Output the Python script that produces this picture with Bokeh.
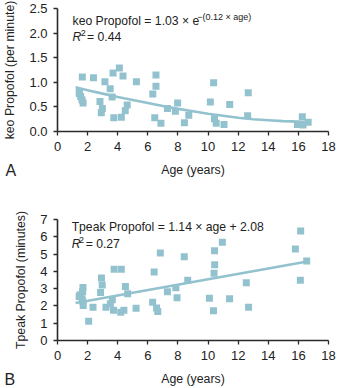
from bokeh.plotting import figure
from bokeh.models import Range1d, Label, Title, FixedTicker, NumeralTickFormatter
from bokeh.layouts import column
from bokeh.embed import file_html
from bokeh.resources import INLINE

# ---- Panel A data: keo Propofol vs age ----
keo_age = [1.65, 2.39, 1.45, 1.45, 1.54, 1.63, 1.70, 2.82, 2.98, 2.91, 3.15, 3.50,
           3.63, 3.69, 3.74, 4.11, 4.35, 4.24, 4.50, 4.63, 5.24, 6.33, 6.54, 6.54,
           6.46, 6.87, 7.30, 7.83, 7.98, 8.72, 8.43, 10.15, 10.37, 10.43, 10.54,
           11.44, 11.06, 12.67, 12.63, 16.26, 15.94, 16.31, 16.65]
keo_val = [1.11, 1.09, 0.81, 0.77, 0.71, 0.64, 0.58, 0.61, 0.47, 0.38, 1.01, 0.87,
           0.70, 1.19, 0.28, 1.29, 1.13, 0.29, 0.42, 0.54, 1.01, 0.76, 1.15, 0.92,
           0.28, 0.17, 0.47, 0.41, 0.58, 0.33, 0.18, 0.60, 0.99, 0.26, 0.17,
           0.55, 0.14, 0.79, 0.32, 0.30, 0.14, 0.13, 0.19]
keo_fit_age = [1.2, 2, 3, 4, 5, 6, 7, 8, 9, 10, 11, 12, 13, 14, 15, 16, 16.6]
keo_fit_val = [0.90, 0.84, 0.77, 0.70, 0.64, 0.58, 0.52, 0.46, 0.41, 0.36, 0.32,
               0.28, 0.25, 0.23, 0.21, 0.20, 0.19]

# ---- Panel B data: Tpeak Propofol vs age ----
tp_age = [1.69, 1.67, 1.50, 1.63, 1.44, 1.67, 1.71, 2.07, 2.36, 2.92, 2.97, 2.86,
          3.22, 3.51, 3.64, 3.72, 3.76, 4.24, 4.20, 4.41, 4.51, 4.66, 5.22, 6.83,
          6.42, 6.32, 6.58, 6.66, 7.30, 7.86, 7.94, 8.42, 8.65, 10.09, 10.36, 10.40,
          10.44, 10.43, 10.95, 11.43, 12.54, 12.69, 15.80, 16.15, 16.55, 16.13]
tp_val = [3.07, 2.84, 2.65, 2.42, 2.55, 2.27, 2.02, 1.12, 1.92, 3.61, 3.21, 2.78,
          1.92, 2.12, 2.36, 1.75, 4.12, 4.12, 1.64, 1.75, 3.13, 2.71, 1.87, 5.06,
          3.96, 2.22, 1.88, 1.68, 2.82, 3.05, 2.48, 4.84, 3.49, 2.44, 1.72, 3.89,
          4.38, 5.19, 5.68, 2.42, 3.34, 1.92, 5.30, 6.33, 4.60, 3.49]
tp_fit_age = [1.2, 16.5]
tp_fit_val = [2.17, 4.56]

x_ticks = [0, 2, 4, 6, 8, 10, 12, 14, 16, 18]
keo_ticks = [0.0, 0.5, 1.0, 1.5, 2.0, 2.5]
tp_ticks = [0, 1, 2, 3, 4, 5, 6, 7]

COLOR = "#93c2cf"
AXIS = "#2a2a2a"
FONT = "Liberation Sans"


def style(p):
    p.background_fill_color = "white"
    p.border_fill_color = "white"
    p.outline_line_color = None
    p.xgrid.grid_line_color = None
    p.ygrid.grid_line_color = None
    for ax in (p.xaxis[0], p.yaxis[0]):
        ax.axis_line_color = AXIS
        ax.axis_line_width = 1.6
        ax.major_tick_line_color = AXIS
        ax.major_tick_line_width = 1.3
        ax.major_tick_out = 4
        ax.major_tick_in = 0
        ax.minor_tick_line_color = None
        ax.major_label_text_font = FONT
        ax.major_label_text_font_size = "13px"
        ax.major_label_text_color = "#222222"
        ax.axis_label_text_font = FONT
        ax.axis_label_text_font_size = "12.3px"
        ax.axis_label_text_font_style = "normal"
        ax.axis_label_text_color = "#222222"
        ax.major_label_standoff = 6
        ax.axis_label_standoff = 9


def txt(p, x, y, s, size="12.2px", style_="normal"):
    p.add_layout(Label(x=x, y=y, text=s, text_font=FONT, text_font_size=size,
                       text_font_style=style_, text_color="#222222",
                       text_baseline="alphabetic", text_align="left"))


def panel_letter(p, s, offset, standoff):
    p.add_layout(Title(text=s, align="left", vertical_align="top",
                       offset=offset, standoff=standoff, text_font=FONT,
                       text_font_size="16px", text_font_style="normal",
                       text_color="#222222"), "below")


# ---------------- Panel A ----------------
pa = figure(width=347, height=188, output_backend="svg", toolbar_location=None,
            x_range=Range1d(0, 18), y_range=Range1d(0, 2.5),
            min_border_left=52, min_border_right=19, min_border_top=8,
            min_border_bottom=57)
style(pa)
pa.xaxis.ticker = FixedTicker(ticks=x_ticks)
pa.yaxis.ticker = FixedTicker(ticks=keo_ticks)
pa.yaxis.formatter = NumeralTickFormatter(format="0.0")
pa.xaxis.axis_label = "Age (years)"
pa.yaxis.axis_label = "keo Propofol (per minute)"
pa.line(keo_fit_age, keo_fit_val, line_color=COLOR, line_width=2.6)
pa.scatter(keo_age, keo_val, marker="square", size=7, fill_color=COLOR,
           line_color=None)
txt(pa, 1.0, 2.25, "keo Propofol = 1.03 \u00d7 e")
txt(pa, 9.28, 2.33, "\u2212(0.12 \u00d7 age)", size="9px")
txt(pa, 1.0, 1.93, "R", style_="italic")
txt(pa, 1.55, 2.01, "2", size="9px")
txt(pa, 1.96, 1.93, "= 0.44")
panel_letter(pa, "A", -52, -36)

# ---------------- Panel B ----------------
pb = figure(width=347, height=200, output_backend="svg", toolbar_location=None,
            x_range=Range1d(0, 18), y_range=Range1d(0, 7),
            min_border_left=53, min_border_right=7, min_border_top=31,
            min_border_bottom=47)
style(pb)
pb.xaxis.ticker = FixedTicker(ticks=x_ticks)
pb.yaxis.ticker = FixedTicker(ticks=tp_ticks)
pb.xaxis.axis_label = "Age (years)"
pb.yaxis.axis_label = "Tpeak Propofol (minutes)"
pb.line(tp_fit_age, tp_fit_val, line_color=COLOR, line_width=2.6)
pb.scatter(tp_age, tp_val, marker="square", size=7, fill_color=COLOR,
           line_color=None)
txt(pb, 0.94, 6.57, "Tpeak Propofol = 1.14 \u00d7 age + 2.08")
txt(pb, 0.94, 5.61, "R", style_="italic")
txt(pb, 1.43, 5.82, "2", size="9px")
txt(pb, 1.87, 5.61, "= 0.27")
panel_letter(pb, "B", -53, -36)

layout = column(pa, pb, spacing=0)
open("out.html", "w").write(file_html(layout, INLINE))
